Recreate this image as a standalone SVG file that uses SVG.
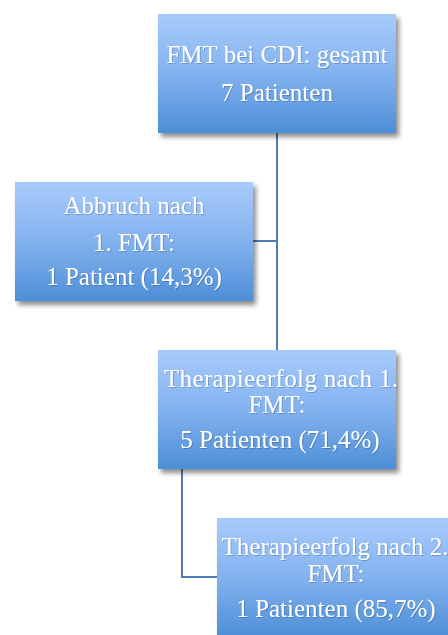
<svg xmlns="http://www.w3.org/2000/svg" width="448" height="635" viewBox="0 0 448 635">
  <defs>
    <linearGradient id="boxFill" x1="0" y1="0" x2="0" y2="1">
      <stop offset="0" stop-color="#a9cbfc"/>
      <stop offset="0.5" stop-color="#83b2ef"/>
      <stop offset="1" stop-color="#4d8ed7"/>
    </linearGradient>
    <filter id="shadow" x="-10%" y="-10%" width="125%" height="130%">
      <feGaussianBlur in="SourceAlpha" stdDeviation="2.5"/>
      <feOffset dx="3" dy="4" result="blur"/>
      <feComponentTransfer><feFuncA type="linear" slope="0.45"/></feComponentTransfer>
      <feMerge><feMergeNode/><feMergeNode in="SourceGraphic"/></feMerge>
    </filter>
    <filter id="textShadow" x="-5%" y="-20%" width="110%" height="140%">
      <feGaussianBlur in="SourceAlpha" stdDeviation="0.6"/>
      <feOffset dx="0.6" dy="0.8"/>
      <feComponentTransfer><feFuncA type="linear" slope="0.2"/></feComponentTransfer>
      <feMerge><feMergeNode/><feMergeNode in="SourceGraphic"/></feMerge>
    </filter>
  </defs>
  <style>
    .box { fill: url(#boxFill); filter: url(#shadow); }
    .label { font-family: "Liberation Serif", "Times New Roman", serif; font-size: 25px; fill: #ffffff; text-anchor: middle; filter: url(#textShadow); }
    .conn { fill: none; stroke: #4c7cb6; stroke-width: 2; }
  </style>

  <rect width="448" height="635" fill="#ffffff"/>

  <!-- connectors -->
  <g id="connectors">
    <path class="conn" d="M277,133 V350"/>
    <path class="conn" d="M253,241 H277"/>
    <path class="conn" d="M182,469 V577 H217"/>
  </g>

  <!-- total -->
  <g id="node-total">
    <rect class="box" x="158" y="14" width="238" height="119"/>
    <text class="label" x="277" y="63">FMT bei CDI: gesamt</text>
    <text class="label" x="277" y="101">7 Patienten</text>
  </g>

  <!-- dropout after first FMT -->
  <g id="node-abbruch">
    <rect class="box" x="15" y="182" width="238" height="119"/>
    <text class="label" x="134" y="214">Abbruch nach</text>
    <text class="label" x="134" y="251">1. FMT:</text>
    <text class="label" x="134" y="285">1 Patient (14,3%)</text>
  </g>

  <!-- success after first FMT -->
  <g id="node-erfolg1">
    <rect class="box" x="158" y="350" width="238" height="119"/>
    <text class="label" x="281" y="387" textLength="234">Therapieerfolg nach 1.</text>
    <text class="label" x="277" y="413">FMT:</text>
    <text class="label" x="280" y="448">5 Patienten (71,4%)</text>
  </g>

  <!-- success after second FMT -->
  <g id="node-erfolg2">
    <rect class="box" x="217" y="518" width="238" height="119"/>
    <text class="label" x="335" y="555">Therapieerfolg nach 2.</text>
    <text class="label" x="336" y="582">FMT:</text>
    <text class="label" x="336" y="617">1 Patienten (85,7%)</text>
  </g>
</svg>
